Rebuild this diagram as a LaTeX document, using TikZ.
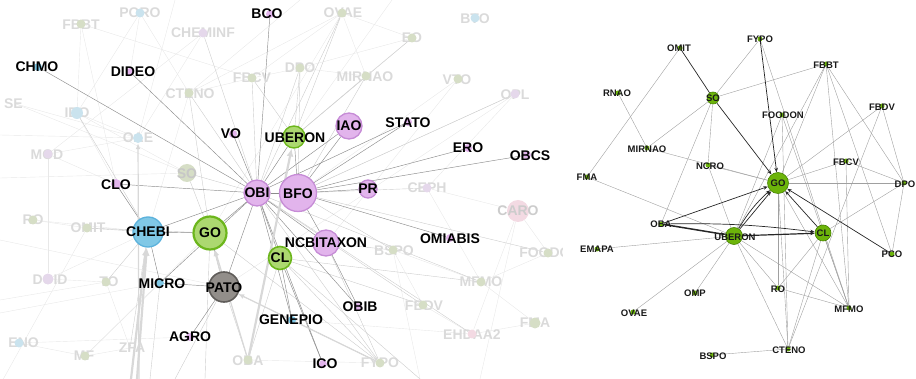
\documentclass[tikz,border=0pt]{standalone}
\usepackage{fontspec}
\setmainfont{Liberation Sans}
\usetikzlibrary{arrows.meta}
\pgfdeclarelayer{edges}
\pgfsetlayers{edges,main}
\definecolor{purpfill}{RGB}{226,180,236}
\definecolor{purpdraw}{RGB}{198,140,214}
\definecolor{gfill}{RGB}{172,216,112}
\definecolor{gdraw}{RGB}{108,182,28}
\definecolor{bfill}{RGB}{128,200,230}
\definecolor{bdraw}{RGB}{92,178,220}
\definecolor{pfill}{RGB}{146,142,138}
\definecolor{pdraw}{RGB}{96,93,90}
\definecolor{fgreen}{RGB}{214,222,198}
\definecolor{fblue}{RGB}{202,227,238}
\definecolor{fpurp}{RGB}{229,216,235}
\definecolor{fpink}{RGB}{243,218,227}
\definecolor{ftext}{RGB}{218,218,218}
\definecolor{edk}{RGB}{140,140,140}
\definecolor{emd}{RGB}{205,205,205}
\definecolor{eft}{RGB}{232,232,232}
\definecolor{etk}{RGB}{216,216,216}
\definecolor{rgf}{RGB}{108,180,10}
\definecolor{rgd}{RGB}{70,130,0}
\definecolor{rge}{RGB}{160,160,160}
\tikzset{
  lab/.style={font=\fontsize{14}{14}\selectfont\bfseries, inner sep=0pt, text=black},
  fl/.style={lab, text=ftext},
  rl/.style={font=\fontsize{9.5}{9.5}\selectfont\bfseries, inner sep=0pt, text=black!90},
  dotb/.style={circle, inner sep=0pt, minimum size=8pt, draw=none},
  pd/.style={dotb, fill=purpfill},
  bd/.style={dotb, fill=bfill},
  fgd/.style={dotb, minimum size=9pt, fill=fgreen},
  fbd/.style={dotb, minimum size=9pt, fill=fblue},
  fpd/.style={dotb, minimum size=9pt, fill=fpurp},
  fkd/.style={dotb, minimum size=9pt, fill=fpink},
  pbig/.style={circle, inner sep=0pt, fill=purpfill, draw=purpdraw, line width=1.3pt},
  gbig/.style={circle, inner sep=0pt, fill=gfill, draw=gdraw, line width=1.6pt},
  bbig/.style={circle, inner sep=0pt, fill=bfill, draw=bdraw, line width=1.3pt},
  patobig/.style={circle, inner sep=0pt, fill=pfill, draw=pdraw, line width=1.6pt},
  rbig/.style={circle, inner sep=0pt, fill=rgf, draw=rgd, line width=0.6pt},
  rd/.style={circle, inner sep=0pt, minimum size=5pt, fill=rgf},
  dk/.style={draw=edk, line width=0.45pt},
  md/.style={draw=emd, line width=0.4pt},
  ft/.style={draw=eft, line width=0.4pt},
  tk/.style={draw=etk, line width=2.2pt, -{Latex[length=8pt,width=7pt]}},
  tm/.style={draw=etk, line width=1.2pt, -{Latex[length=6pt,width=5pt]}},
  rg/.style={draw=rge, line width=0.4pt},
  rdk/.style={draw=black!85, line width=0.7pt, -{Stealth[length=4.5pt,width=3.5pt]}},
  rdl/.style={draw=black!85, line width=0.7pt},
}
\begin{document}
\begin{tikzpicture}[x=1pt,y=-1pt]
\useasboundingbox (0,0) rectangle (916,379);
% ================= LEFT PANEL =================
\begin{scope}
\clip (0,0) rectangle (562,379);
% faded labels
\node[fl] (fFBBTt) at (81,25) {FBBT};
\node[fl] (fPOROt) at (140,13) {PORO};
\node[fl] (fCHEMINFt) at (203,33) {CHEMINF};
\node[fl] (fOVAEt) at (343,13) {OVAE};
\node[fl] (fBTOt) at (475,19) {BTO};
\node[fl] (fEOt) at (412,38) {EO};
\node[fl] (fFBCVt) at (252,78) {FBCV};
\node[fl] (fDPOt) at (300,68) {DPO};
\node[fl] (fMIRNAOt) at (365,77) {MIRNAO};
\node[fl] (fVTOt) at (457,80) {VTO};
\node[fl] (fOPLt) at (515,95) {OPL};
\node[fl] (fCTENOt) at (190,94) {CTENO};
\node[fl, anchor=east] (fSEt) at (23,104) {SE};
\node[fl] (fIDOt) at (77,113) {IDO};
\node[fl] (fOAEt) at (138,138) {OAE};
\node[fl] (fMODt) at (47,155) {MOD};
\node[fl] (fCEPHt) at (427,188) {CEPH};
\node[fl] (fRORt) at (33,220) {RO};
\node[fl] (fOMITt) at (88,228) {OMIT};
\node[fl] (fBSPOt) at (394,251) {BSPO};
\node[fl] (fFOODONt) at (550,253) {FOODON};
\node[fl] (fMFMOt) at (481,282) {MFMO};
\node[fl] (fDOIDt) at (50,280) {DOID};
\node[fl] (fTOt) at (109,282) {TO};
\node[fl] (fFBDVt) at (424,306) {FBDV};
\node[fl] (fEHDAA2t) at (472,335) {EHDAA2};
\node[fl] (fFMAt) at (535,323) {FMA};
\node[fl, anchor=east] (fXNOt) at (39,343) {ENO};
\node[fl] (fMFt) at (84,356) {MF};
\node[fl] (fZFAt) at (132,348) {ZFA};
\node[fl] (fOBAt) at (248,361) {OBA};
\node[fl] (fFYPOt) at (380,363) {FYPO};
% faded dots
\node[fgd] (fFBBT) at (81,24) {};
\node[fbd] (fPORO) at (140,13) {};
\node[fpd] (fCHEMINF) at (203,33) {};
\node[fgd] (fOVAE) at (342,13) {};
\node[fbd] (fBTO) at (475,18) {};
\node[fgd] (fEO) at (412,38) {};
\node[fgd] (fFBCV) at (252,78) {};
\node[fgd] (fDPO) at (300,68) {};
\node[fgd] (fMIRNAO) at (366,76) {};
\node[fgd] (fVTO) at (458,79) {};
\node[fpd] (fOPL) at (515,94) {};
\node[fgd] (fCTENO) at (189,93) {};
\coordinate (fSE) at (16,104);
\node[fbd, minimum size=12pt] (fIDO) at (77,113) {};
\node[fbd, minimum size=10pt] (fOAE) at (138,138) {};
\node[fpd] (fMOD) at (48,154) {};
\node[fgd, minimum size=18pt] (fSO) at (187,173) {};
\node[fl, text=black!22] (fSOt) at (187,174) {SO};
\node[fpd] (fCEPH) at (427,188) {};
\node[fkd, minimum size=22pt] (fCARO) at (518,211) {};
\node[fl, text=black!20] (fCAROt) at (518,211) {CARO};
\node[fgd] (fRO) at (33,220) {};
\node[fgd] (fOMIT) at (87,228) {};
\node[fgd] (fBSPO) at (393,250) {};
\node[fgd] (fFOODON) at (548,253) {};
\node[fgd] (fMFMO) at (481,282) {};
\node[fpd, minimum size=11pt] (fDOID) at (48,279) {};
\node[fgd] (fTO) at (106,282) {};
\node[fgd] (fFBDV) at (423,305) {};
\node[fkd] (fEHDAA2) at (472,334) {};
\node[fgd, minimum size=11pt] (fFMA) at (535,323) {};
\node[fbd] (fXNO) at (19,343) {};
\node[fgd] (fMF) at (85,356) {};
\coordinate (fZFA) at (130,348);
\node[fgd] (fOBA) at (248,360) {};
\node[fgd] (fFYPO) at (380,363) {};
% foreground nodes
\node[pd] (BCO) at (270,14) {};
\node[bd] (CHMO) at (38,67) {};
\node[pd] (DIDEO) at (130,72) {};
\node[pd] (VO) at (233,134) {};
\node[gbig, minimum size=22pt, line width=1.4pt] (UBERONL) at (294,137) {};
\node[pbig, minimum size=26pt] (IAO) at (349,126) {};
\node[pd] (STATO) at (408,122) {};
\node[pd] (ERO) at (468,148) {};
\node[pd] (OBCS) at (527,155) {};
\node[pd, minimum size=10pt] (CLO) at (116,184) {};
\node[pbig, minimum size=26pt] (OBI) at (257,193) {};
\node[pbig, minimum size=37pt] (BFO) at (298,193) {};
\node[pbig, minimum size=18pt] (PR) at (368,189) {};
\node[bbig, minimum size=30pt] (CHEBI) at (148,232) {};
\node[gbig, minimum size=33pt, line width=2.2pt] (GOL) at (210,233) {};
\node[pbig, minimum size=26pt] (NCBITAXON) at (326,243) {};
\node[gbig, minimum size=23pt] (CLL) at (280,258) {};
\node[pd] (OMIABIS) at (450,238) {};
\node[bd] (MICRO) at (160,283) {};
\node[patobig, minimum size=30pt] (PATO) at (224,287) {};
\node[pd] (OBIB) at (358,307) {};
\node[bd] (GENEPIO) at (292,320) {};
\node[pd] (AGRO) at (190,337) {};
\node[pd] (ICO) at (323,364) {};
% foreground labels
\node[lab] (BCOt) at (267,14) {BCO};
\node[lab] (CHMOt) at (37,67) {CHMO};
\node[lab] (DIDEOt) at (133,72) {DIDEO};
\node[lab] (VOt) at (231,134) {VO};
\node[lab] (UBERONLt) at (295,138) {UBERON};
\node[lab] (IAOt) at (349,126) {IAO};
\node[lab] (STATOt) at (408,123) {STATO};
\node[lab] (EROt) at (468,148) {ERO};
\node[lab] (OBCSt) at (530,156) {OBCS};
\node[lab] (CLOt) at (116,185) {CLO};
\node[lab] (OBIt) at (257,193) {OBI};
\node[lab] (BFOt) at (298,194) {BFO};
\node[lab] (PRt) at (368,189) {PR};
\node[lab] (CHEBIt) at (148,232) {CHEBI};
\node[lab] (GOLt) at (210,233) {GO};
\node[lab] (NCBITAXONt) at (326,243) {NCBITAXON};
\node[lab] (CLLt) at (280,258) {CL};
\node[lab] (OMIABISt) at (450,239) {OMIABIS};
\node[lab] (MICROt) at (162,284) {MICRO};
\node[lab] (PATOt) at (224,288) {PATO};
\node[lab] (OBIBt) at (360,307) {OBIB};
\node[lab] (GENEPIOt) at (291,320) {GENEPIO};
\node[lab] (AGROt) at (190,337) {AGRO};
\node[lab] (ICOt) at (325,364) {ICO};
% free ends at the picture's border
\coordinate (eA) at (0,300);
\coordinate (eB) at (0,313);
\coordinate (eC) at (0,240);
\coordinate (eD) at (0,135);
\coordinate (eE) at (0,178);
\coordinate (eF) at (150,379);
\coordinate (eG) at (205,379);
\coordinate (eH) at (175,379);
\coordinate (eI) at (420,379);
\coordinate (eJ) at (480,379);
\coordinate (eK) at (131,379);
\coordinate (eL) at (137,379);
\coordinate (eM) at (139,379);
\coordinate (eT1) at (392,0);
\coordinate (eT2) at (300,0);
\coordinate (eT3) at (175,0);
\coordinate (eN) at (0,385);
\end{scope}
\begin{pgfonlayer}{edges}
\begin{scope}
\clip (0,0) rectangle (562,379);
% faint background web
\foreach \a/\b in {fPORO/fIDO, fPORO/fCTENO, fPORO/DIDEO, fFBBT/fFBCV, fFBBT/fIDO, fFBBT/CLO,
  fCHEMINF/fMOD, fCHEMINF/fOAE, fOVAE/fMIRNAO, fOVAE/fCTENO, fOVAE/fFBCV, fOVAE/GOL,
  fEO/fMIRNAO, fEO/fDPO, fVTO/NCBITAXON, fVTO/BFO, fOPL/PATO, fOPL/fCEPH, fCARO/fFOODON,
  fCARO/fEHDAA2, fCARO/fCEPH, fCARO/eJ, fMOD/fOAE, fSE/fOAE, fSE/fSO, fDOID/fTO, fXNO/fMF,
  fMF/fZFA, fMF/MICRO, fRO/fOMIT, fIDO/fSO, fIDO/fOAE, fMFMO/fBSPO, fFBDV/fBSPO, fFBDV/fEHDAA2,
  fMFMO/fFOODON, fOBA/fFYPO, fMOD/CLO, fDPO/fFBCV, fDPO/fMIRNAO, fCTENO/fFBCV, fCTENO/CHEBI,
  eA/fTO, eB/MICRO, eC/PATO, eD/fOAE, eE/fSO, fXNO/AGRO, fMF/GOL, eT3/fOAE, eT1/UBERONL,
  eT2/fCTENO, fOPL/BFO, fFMA/fEHDAA2, eI/fBSPO, fDOID/CHEBI, fRO/CHEBI, eN/fOMIT,
  fMOD/fDOID, fEO/fOVAE, fCEPH/fMFMO, fTO/fZFA, fMFMO/fFMA, fIDO/CLO, fEHDAA2/GENEPIO}
  \draw[ft] (\a) -- (\b);
% medium edges
\foreach \a/\b in {OBI/fFYPO, OBI/fFBDV, OBI/fMFMO, BFO/fCEPH, BFO/fBSPO, BFO/fOPL,
  BFO/fFOODON, UBERONL/fOVAE, UBERONL/fMIRNAO, UBERONL/fDPO, UBERONL/fEO, OBI/fFBCV,
  OBI/fCTENO, OBI/fCHEMINF, OBI/fSO, GOL/fSO, CHEBI/fIDO, CHEBI/fOMIT, CHEBI/fTO,
  PATO/fOBA, CLL/fOBA, GOL/fFYPO, PATO/fFYPO, NCBITAXON/fFYPO, CLL/fFYPO, GENEPIO/fFYPO,
  GOL/fOMIT, OBI/fOVAE, BFO/fDPO, OBI/fDPO, CLL/fMFMO, NCBITAXON/fBSPO, BFO/fMIRNAO,
  GOL/fCTENO, UBERONL/fFBCV, CLL/fFBDV, OBI/fEHDAA2, PATO/eH, MICRO/eF, CHEBI/fZFA,
  CLL/eI, GOL/eG}
  \draw[md] (\a) -- (\b);
% dark edges
\foreach \a/\b in {OBI/CHMO, OBI/DIDEO, OBI/VO, OBI/BCO, OBI/CLO, OBI/CHEBI, OBI/GOL,
  OBI/PATO, OBI/GENEPIO, OBI/ICO, OBI/OBIB, OBI/UBERONL, OBI/IAO, OBI/STATO, OBI/CLL,
  OBI/NCBITAXON, OBI/BFO, OBI/MICRO, BFO/ERO, BFO/OBCS, BFO/OMIABIS, BFO/IAO, BFO/PR,
  BFO/NCBITAXON, BFO/UBERONL, BFO/STATO, CHEBI/GOL, MICRO/PATO, AGRO/PATO, CLL/ICO,
  NCBITAXON/OBIB, CLO/CHEBI, CHEBI/MICRO, GOL/PATO, CLL/GENEPIO}
  \draw[dk] (\a) -- (\b);
% thick light arrows
\draw[tk] (eK) -- (CHEBI);
\draw[tk] (eL) -- (CHEBI);
\draw[tm] (eM) -- (fOAE);
\draw[tk] (fOBA) -- (UBERONL);
\draw[tm] (fOBA) -- (GOL);
\draw[tm] (PATO) -- (GOL);
\draw[tm] (fFYPO) -- (PATO);
\end{scope}
\end{pgfonlayer}
% ================= RIGHT PANEL =================
\node[rd] (rOMIT) at (680,48) {};
\node[rd] (rFYPO) at (760,39) {};
\node[rd] (rFBBT) at (826,64) {};
\node[rd] (rRNAO) at (618,93) {};
\node[rbig, minimum size=12pt] (rSO) at (713,98) {};
\node[rd] (rFOODON) at (782,115) {};
\node[rd] (rFBDV) at (882,106) {};
\node[rd] (rMIRNAO) at (647,148) {};
\node[rd] (rNCRO) at (708,165) {};
\node[rd] (rFBCV) at (846,161) {};
\node[rd] (rFMA) at (587,177) {};
\node[rbig, minimum size=21pt] (rGO) at (778,183) {};
\node[rd] (rDPO) at (904,183) {};
\node[rd] (rOBA) at (661,224) {};
\node[rbig, minimum size=17pt] (rUBERON) at (734,236) {};
\node[rbig, minimum size=16pt] (rCL) at (823,233) {};
\node[rd] (rEMAPA) at (597,249) {};
\node[rd] (rPCO) at (892,254) {};
\node[rd] (rRO) at (778,288) {};
\node[rd] (rOMP) at (695,293) {};
\node[rd] (rMFMO) at (849,308) {};
\node[rd] (rOVAE) at (633,312) {};
\node[rd] (rCTENO) at (788,349) {};
\node[rd] (rBSPO) at (712,355) {};
\node[rl] (rOMITt) at (679,48) {OMIT};
\node[rl] (rFYPOt) at (760,39) {FYPO};
\node[rl] (rFBBTt) at (826,65) {FBBT};
\node[rl] (rRNAOt) at (617,93) {RNAO};
\node[rl] (rSOt) at (713,98) {SO};
\node[rl] (rFOODONt) at (783,115) {FOODON};
\node[rl] (rFBDVt) at (882,107) {FBDV};
\node[rl] (rMIRNAOt) at (647,149) {MIRNAO};
\node[rl] (rNCROt) at (710,166) {NCRO};
\node[rl] (rFBCVt) at (846,162) {FBCV};
\node[rl] (rFMAt) at (587,177) {FMA};
\node[rl] (rGOt) at (778,183) {GO};
\node[rl] (rDPOt) at (905,184) {DPO};
\node[rl] (rOBAt) at (661,224) {OBA};
\node[rl] (rUBERONt) at (735,237) {UBERON};
\node[rl] (rCLt) at (823,233) {CL};
\node[rl] (rEMAPAt) at (597,249) {EMAPA};
\node[rl] (rPCOt) at (892,254) {PCO};
\node[rl] (rROt) at (778,289) {RO};
\node[rl] (rOMPt) at (695,293) {OMP};
\node[rl] (rMFMOt) at (849,309) {MFMO};
\node[rl] (rOVAEt) at (634,313) {OVAE};
\node[rl] (rCTENOt) at (789,350) {CTENO};
\node[rl] (rBSPOt) at (713,356) {BSPO};
\begin{pgfonlayer}{edges}
\foreach \a/\b in {rRNAO/rMIRNAO, rOMIT/rFMA, rFYPO/rSO, rFYPO/rMFMO, rSO/rFBBT, rSO/rMIRNAO,
  rSO/rNCRO, rSO/rOBA, rMIRNAO/rGO, rNCRO/rGO, rNCRO/rUBERON, rFMA/rUBERON,
  rFOODON/rUBERON, rFOODON/rCTENO, rFOODON/rMFMO, rFBBT/rGO, rFBBT/rUBERON, rFBBT/rMFMO,
  rFBBT/rDPO, rFBBT/rPCO, rFBDV/rGO, rFBDV/rDPO, rFBDV/rCTENO, rFBCV/rGO, rFBCV/rDPO,
  rFBCV/rMFMO, rGO/rDPO, rGO/rRO, rGO/rCTENO, rGO/rMFMO, rUBERON/rEMAPA, rUBERON/rOVAE,
  rUBERON/rOMP, rUBERON/rRO, rUBERON/rMFMO, rUBERON/rCTENO, rCL/rRO, rCL/rCTENO,
  rCL/rMFMO, rCL/rDPO, rDPO/rPCO, rRO/rMFMO, rBSPO/rCTENO}
  \draw[rg] (\a) -- (\b);
\draw[rdl] (rOMIT) -- (rSO);
\draw[rdk] (rSO) -- (rGO);
\draw[rdk] (rFYPO) -- (rGO);
\draw[rdk] (rPCO) -- (rGO);
\draw[rdk] (rCL) -- (rGO);
\draw[rdk] (rUBERON) -- (rGO);
\draw[rdk] (rUBERON) to[bend left=8] (rGO);
\draw[rdk] (rOBA) -- (rGO);
\draw[rdk, line width=1.5pt] (rOBA) -- (rUBERON);
\draw[rdk] (rOBA) to[bend left=4] (rCL);
\draw[rdk, line width=1.2pt] (rUBERON) -- (rCL);
\end{pgfonlayer}
\end{tikzpicture}
\end{document}
